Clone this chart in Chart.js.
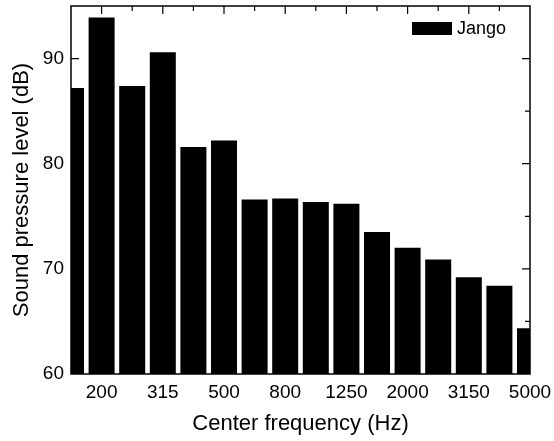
<!DOCTYPE html>
<html>
<head>
<meta charset="utf-8">
<script src="https://cdn.jsdelivr.net/npm/chart.js@4"></script>
<style>
  html, body { margin: 0; padding: 0; background: #fff; }
  #wrap { width: 554px; height: 441px; }
</style>
</head>
<body>
<div id="wrap"><canvas id="spl"></canvas></div>
<script>
const bands = ['160', '200', '250', '315', '400', '500', '630', '800', '1000', '1250', '1600', '2000', '2500', '3150', '4000', '5000'];
const jango = [87.2, 93.9, 87.4, 90.6, 81.6, 82.2, 76.6, 76.7, 76.35, 76.2, 73.5, 72.0, 70.9, 69.2, 68.4, 64.35];
const yTicks = [60, 70, 80, 90];
const FONT = 'Liberation Sans, Arial, sans-serif';

// frame box + inward ticks on all four sides, legend inside the top right corner
const framePlugin = {
  id: 'frame',
  afterDatasetsDraw(chart) {
    const { ctx, chartArea: a, scales: { x, y } } = chart;
    ctx.save();
    ctx.strokeStyle = '#000';
    ctx.lineWidth = 1.5;
    ctx.strokeRect(a.left, a.top, a.right - a.left, a.bottom - a.top);
    ctx.lineWidth = 1.2;
    ctx.beginPath();
    for (let v = 65; v < 95; v += 5) {
      const py = y.getPixelForValue(v);
      const len = v % 10 === 0 ? 8 : 5;
      ctx.moveTo(a.left, py); ctx.lineTo(a.left + len, py);
      ctx.moveTo(a.right, py); ctx.lineTo(a.right - len, py);
    }
    bands.forEach((b, i) => {
      const px = x.getPixelForValue(i);
      if (px <= a.left + 1 || px >= a.right - 1) return;
      const len = i % 2 === 1 ? 8 : 5;
      ctx.moveTo(px, a.top); ctx.lineTo(px, a.top + len);
    });
    ctx.stroke();

    // legend
    const ds = chart.data.datasets[0];
    ctx.fillStyle = ds.backgroundColor;
    ctx.fillRect(a.right - 118, a.top + 16, 40, 13);
    ctx.font = '18px ' + FONT;
    ctx.textBaseline = 'middle';
    ctx.textAlign = 'left';
    ctx.fillText(ds.label, a.right - 73, a.top + 23);
    ctx.restore();
  }
};

new Chart(document.getElementById('spl').getContext('2d'), {
  type: 'bar',
  data: {
    labels: bands,
    datasets: [{
      label: 'Jango',
      data: jango,
      backgroundColor: '#000',
      borderWidth: 0,
      barPercentage: 0.85,
      categoryPercentage: 1,
      clip: 0
    }]
  },
  options: {
    responsive: true,
    maintainAspectRatio: false,
    animation: false,
    layout: { padding: { top: 6, right: 24, left: 0, bottom: 0 } },
    plugins: {
      legend: { display: false },
      tooltip: { enabled: false }
    },
    scales: {
      x: {
        offset: false,
        grid: { display: false, drawTicks: false },
        border: { display: false },
        ticks: {
          autoSkip: false,
          maxRotation: 0,
          padding: 7,
          color: '#000',
          font: { family: FONT, size: 19 },
          callback: function (value, index) {
            return index % 2 === 1 ? bands[index] : '';
          }
        },
        title: {
          display: true,
          text: 'Center frequency (Hz)',
          color: '#000',
          padding: { top: 0, bottom: 4 },
          font: { family: FONT, size: 22 }
        },
        afterFit: function (scale) {
          scale.height = 67;
          scale.paddingLeft = 0;
          scale.paddingRight = 0;
        }
      },
      y: {
        min: 60,
        max: 95,
        grid: { display: false, drawTicks: false },
        border: { display: false },
        afterBuildTicks: function (scale) {
          scale.ticks = yTicks.map(v => ({ value: v }));
        },
        ticks: {
          padding: 7,
          color: '#000',
          font: { family: FONT, size: 19 }
        },
        title: {
          display: true,
          text: 'Sound pressure level (dB)',
          color: '#000',
          padding: { top: 9, bottom: 0 },
          font: { family: FONT, size: 22 }
        },
        afterFit: function (scale) {
          scale.width = 71;
          scale.paddingTop = 0;
          scale.paddingBottom = 0;
        }
      }
    }
  },
  plugins: [framePlugin]
});
</script>
</body>
</html>
